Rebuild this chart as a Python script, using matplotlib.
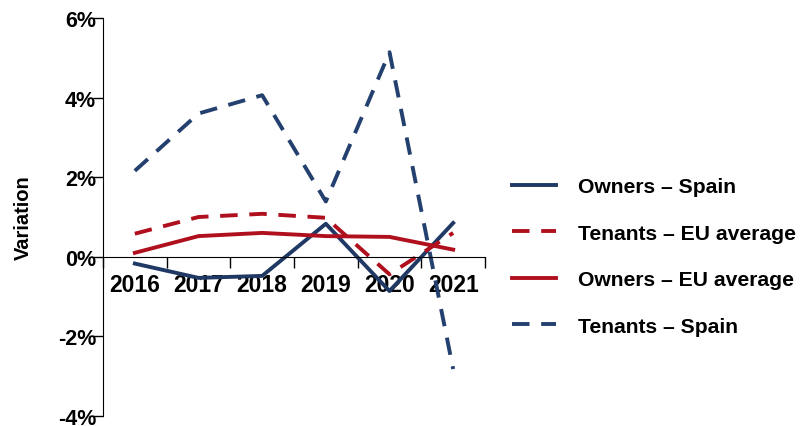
import numpy as np
import matplotlib
matplotlib.use("Agg")
import matplotlib.pyplot as plt

plt.rcParams["font.family"] = ["Liberation Sans", "DejaVu Sans"]
plt.rcParams["font.weight"] = "bold"

# Data (% variation)
years = ["2016", "2017", "2018", "2019", "2020", "2021"]
owners_spain = [-0.17, -0.53, -0.48, 0.83, -0.86, 0.85]
tenants_eu = [0.58, 1.00, 1.08, 0.98, -0.44, 0.60]
owners_eu = [0.10, 0.52, 0.60, 0.52, 0.50, 0.18]
tenants_spain = [2.16, 3.60, 4.06, 1.39, 5.14, -2.82]

navy = "#1F3864"
red = "#B0101E"

fig = plt.figure(figsize=(8.01, 4.27), dpi=100)
ax = fig.add_axes([103 / 801, 10 / 427, (485 - 103) / 801, (408 - 10) / 427])

x = np.arange(len(years)) + 0.5
lw = 2.8
dash = (0, (4.5, 3))
ax.plot(x, owners_spain, color=navy, lw=lw, label="Owners – Spain")
ax.plot(x, tenants_eu, color=red, lw=lw, ls=dash, label="Tenants – EU average")
ax.plot(x, owners_eu, color=red, lw=lw, label="Owners – EU average")
ax.plot(x, tenants_spain, color="#23406E", lw=lw, ls=dash, label="Tenants – Spain")

ax.set_xlim(0, len(years))
ax.set_ylim(-4, 6)
ax.set_yticks([-4, -2, 0, 2, 4, 6])
ax.set_yticklabels([f"{v}%" for v in [-4, -2, 0, 2, 4, 6]])
ax.tick_params(axis="y", direction="out", length=7, width=1, pad=-2, labelsize=15.5)

ax.set_xticks(np.arange(len(years) + 1))
ax.set_xticklabels([])
ax.set_xticks(x, minor=True)
ax.set_xticklabels(years, minor=True)
ax.tick_params(axis="x", which="major", direction="out", length=8, width=1)
ax.tick_params(axis="x", which="minor", length=0, pad=12, labelsize=16.5)

ax.spines["top"].set_visible(False)
ax.spines["right"].set_visible(False)
ax.spines["bottom"].set_position(("data", 0))

ax.set_ylabel("Variation", fontsize=14.5, fontweight="bold", labelpad=18)

fig.legend(loc="center left", bbox_to_anchor=(493 / 801, 0.397), frameon=False,
           prop={"family": "Liberation Sans", "size": 15.2, "weight": "bold"},
           handlelength=2.1, handletextpad=1.05, labelspacing=1.3)

fig.savefig("out.png", dpi=100)
